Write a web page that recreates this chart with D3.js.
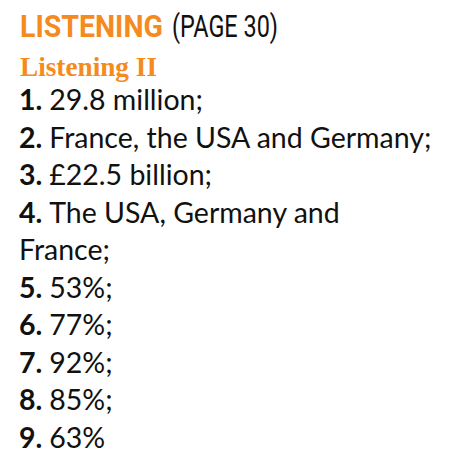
<!DOCTYPE html>
<html lang="en">
<head>
    <meta charset="UTF-8">
    <title>Listening answers</title>
    <script src="https://cdnjs.cloudflare.com/ajax/libs/d3/7.8.5/d3.min.js"></script>
    <style>
        body { margin: 0; background: #fff; }
    </style>
</head>
<body>
    <div id="report"></div>
    <script>
        // text content
        var heading = "LISTENING";
        var pageRef = "(PAGE 30)";
        var subHeading = "Listening II";
        // each answer line: number label (blank for a wrapped line) and text
        var numbers = ["1.", "2.", "3.", "4.", "", "5.", "6.", "7.", "8.", "9."];
        var answers = ["29.8 million;", "France, the USA and Germany;", "\u00a322.5 billion;",
            "The USA, Germany and", "France;", "53%;", "77%;", "92%;", "85%;", "63%"];

        var width = 449,
            height = 474;
        var orange = "#f58a1f";

        var svg = d3.select("#report")
            .append("svg")
            .attr("width", width)
            .attr("height", height);

        // title
        var title = svg.append("text")
            .attr("x", 20)
            .attr("y", 37)
            .style("font-family", "'Liberation Sans Narrow', 'Roboto', sans-serif")
            .style("font-size", "32px");
        title.append("tspan")
            .attr("fill", orange)
            .attr("font-weight", "bold")
            .attr("textLength", 143)
            .attr("lengthAdjust", "spacingAndGlyphs")
            .text(heading);
        title.append("tspan")
            .attr("x", 172)
            .attr("fill", "#111")
            .attr("textLength", 106)
            .attr("lengthAdjust", "spacingAndGlyphs")
            .text(pageRef);

        svg.append("text")
            .attr("x", 20)
            .attr("y", 76)
            .attr("fill", orange)
            .attr("font-weight", "bold")
            .attr("textLength", 137)
            .attr("lengthAdjust", "spacingAndGlyphs")
            .style("font-family", "'Liberation Serif', serif")
            .style("font-size", "28px")
            .text(subHeading);

        // one line per answer
        var y = d3.scaleLinear()
            .domain([0, answers.length - 1])
            .range([110, 447.5]);

        var lines = svg.selectAll(".answer")
            .data(answers)
            .enter().append("text")
            .attr("class", "answer")
            .attr("x", 19)
            .attr("y", function(d, i){ return y(i); })
            .attr("fill", "#111")
            .style("font-family", "Lato, 'Open Sans', sans-serif")
            .style("font-size", "28.5px");

        lines.append("tspan")
            .attr("font-weight", "bold")
            .text(function(d, i){ return numbers[i] ? numbers[i] + " " : ""; });
        lines.append("tspan")
            .text(function(d){ return d; });
    </script>
</body>
</html>
